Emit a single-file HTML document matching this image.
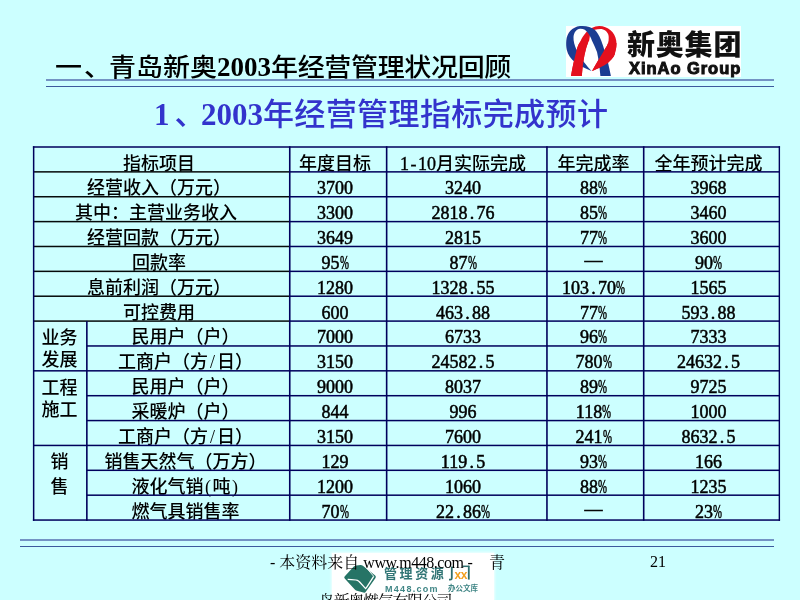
<!DOCTYPE html>
<html lang="zh-CN">
<head>
<meta charset="utf-8">
<title>青岛新奥2003年经营管理状况回顾</title>
<style>
html,body{margin:0;padding:0;}
body{width:800px;height:600px;overflow:hidden;background:#CCFFFF;position:relative;
  font-family:"Liberation Serif","Noto Serif CJK SC",serif;color:#000;}
.abs{position:absolute;}
.title{left:55px;top:49px;font-size:27px;line-height:36px;white-space:nowrap;
  font-family:"Liberation Serif","Noto Sans CJK SC",sans-serif;font-weight:500;}
.title .n{font-weight:700;}
.title .c{letter-spacing:-0.33px;}
.title .sq{display:inline-block;transform:scaleY(0.91);transform-origin:50% 29px;}
.hl1{left:46px;width:728px;height:2px;background:#7393C4;}
.hl2{left:46px;width:728px;height:1px;background:#3D5A9E;}
.sub{left:154px;top:96px;font-size:31px;line-height:38px;white-space:nowrap;color:#3333CC;
  font-family:"Liberation Serif","Noto Sans CJK SC",sans-serif;font-weight:400;}
.sub .n{font-weight:700;}
.sub .c{letter-spacing:0.4px;font-weight:500;}
.sub .dn{position:relative;left:5px;}
.logo{left:566px;top:26px;width:175px;height:51px;background:#fff;}
table.t{position:absolute;left:33px;top:146px;border-collapse:separate;border-spacing:0;
  table-layout:fixed;border-left:2px solid transparent;border-top:2px solid transparent;}
table.t td{border-right:1px solid transparent;border-bottom:1px solid transparent;padding:10px 6px 0 0;
  text-align:center;vertical-align:top;font-size:18px;line-height:13px;white-space:nowrap;overflow:visible;
  font-family:"Liberation Serif","Noto Sans CJK SC",sans-serif;box-sizing:border-box;font-weight:500;}
table.t td.num{-webkit-text-stroke:0.5px #000;}

table.t td.c2{padding-right:7px;} table.t td.c3{padding-right:9px;} table.t td.c4{padding-right:4px;} table.t td.c5{padding-right:6px;}
table.t td.g{line-height:22.5px;padding:3px 3px 0 0;}
table.t td.g span{position:relative;top:2.5px;}
.p{display:inline-block;width:9px;transform:scaleX(0.6);transform-origin:0 50%;}
table.t td.last{border-right-width:2px;}
table.t tr.bot td{border-bottom-width:2px;}
.foot{left:270px;top:553px;font-size:16px;line-height:20px;white-space:nowrap;
  font-family:"Liberation Serif","Noto Serif CJK SC",serif;}
.wm{left:332px;top:553px;width:162px;height:47px;background:#fff;box-shadow:0 0 2px 1px rgba(255,255,255,0.7);}
.foot2{left:319px;top:592px;font-size:16px;line-height:20px;white-space:nowrap;letter-spacing:-1.3px;
  font-family:"Liberation Serif","Noto Serif CJK SC",serif;}
.pg{left:650px;top:552px;font-size:16px;line-height:20px;font-family:"Liberation Serif",serif;}
.d{display:inline-block;width:9px;text-align:center;}
</style>
</head>
<body>
<div class="abs title"><span class="sq">一<span style="position:relative;left:2px">、</span>青岛新奥</span><span class="n">2003</span><span class="c sq">年经营管理状况回顾</span></div>
<div class="abs hl1" style="top:79px"></div>
<div class="abs hl2" style="top:86px"></div>
<div class="abs logo"></div>
<svg class="abs" style="left:564px;top:24px" width="60" height="56" viewBox="0 0 60 56">
<path fill="#E4101E" d="M7 52 L17.8 52 C18.6 42 19.8 33 21.7 26 C23 21 24.2 18 25.2 16.4 C26 12 26 10 26.5 8.4 C29 5.5 33 5 37.7 5.1 C41.5 6 44.7 9 44.7 13 C45 18 43.5 21.5 41.4 24.3 C37 32 32 40 28 47 C35 44 42 41 44.8 38 C49 34 51.2 31 51.2 28 C52.5 24 52.8 20 52.2 16.4 C51 8 44 2.2 35.3 1.9 C30 2 25 5 22 8.4 C19 12 17.8 14 16.8 16.4 C14.5 20 13.5 23 12.6 26 C10.5 34 8.5 43 7 52 Z"/>
<path fill="#1B3D92" d="M36.4 52 L46.9 52 C45 42 43 34 41 28 C39.6 23 38.5 20 37.2 16.4 C35 11 33 8 31 6 C27 2.5 22 1.6 16 2 C8 3 3 9 2.3 16.4 C2 20 2.2 23 2.8 26 C5 36 15 42 27.5 47 C22 41 17 35 12.6 26 C10.5 21 9.3 17 9.5 13 C10 8 12.5 5 16 4.7 C19.5 4.5 22 6 24 9 C25.8 11.5 27 14 27.9 16.4 C29.8 20 31.5 24 33 28 C34.6 35 35.6 43 36.4 52 Z"/>
<svg x="0" y="19" width="60" height="37" viewBox="0 19 60 37" overflow="hidden"><path fill="#E4101E" d="M7 52 L17.8 52 C18.6 42 19.8 33 21.7 26 C23 21 24.2 18 25.2 16.4 C26 12 26 10 26.5 8.4 C29 5.5 33 5 37.7 5.1 C41.5 6 44.7 9 44.7 13 C45 18 43.5 21.5 41.4 24.3 C37 32 32 40 28 47 C35 44 42 41 44.8 38 C49 34 51.2 31 51.2 28 C52.5 24 52.8 20 52.2 16.4 C51 8 44 2.2 35.3 1.9 C30 2 25 5 22 8.4 C19 12 17.8 14 16.8 16.4 C14.5 20 13.5 23 12.6 26 C10.5 34 8.5 43 7 52 Z"/></svg>
</svg>
<div class="abs" style="left:627px;top:27.5px;font-family:'Liberation Sans','Noto Sans CJK SC',sans-serif;font-weight:900;font-size:28px;letter-spacing:0.8px;line-height:36px;white-space:nowrap;color:#111;">新奥集团</div>
<div class="abs" style="left:629px;top:59px;font-family:'Liberation Sans',sans-serif;font-weight:700;font-size:16.5px;line-height:18px;white-space:nowrap;letter-spacing:0.95px;-webkit-text-stroke:1px #111;color:#111;">XinAo Group</div>
<div class="abs sub"><span class="n">1</span><span class="c dn">、</span><span class="n">2003</span><span class="c">年经营管理指标完成预计</span></div>

<table class="t">
<colgroup><col style="width:53px"><col style="width:202px"><col style="width:98px"><col style="width:160px"><col style="width:96px"><col style="width:137px"></colgroup>
<tr style="height:24px"><td class="k" colspan="2">指标项目</td><td class="c2">年度目标</td><td class="c3"><span style="-webkit-text-stroke:0.35px #000">1<span class="d">-</span>10</span>月实际完成</td><td class="c4">年完成率</td><td class="last c5">全年预计完成</td></tr>
<tr style="height:25px"><td class="k" colspan="2">经营收入（万元）</td><td class="c2 num">3700</td><td class="c3 num">3240</td><td class="c4 num">88<span class="p">%</span></td><td class="last c5 num">3968</td></tr>
<tr style="height:25px"><td class="k" colspan="2" style="padding-right:12px">其中：主营业务收入</td><td class="c2 num">3300</td><td class="c3 num">2818<span class="d">.</span>76</td><td class="c4 num">85<span class="p">%</span></td><td class="last c5 num">3460</td></tr>
<tr style="height:25px"><td class="k" colspan="2">经营回款（万元）</td><td class="c2 num">3649</td><td class="c3 num">2815</td><td class="c4 num">77<span class="p">%</span></td><td class="last c5 num">3600</td></tr>
<tr style="height:25px"><td class="k" colspan="2">回款率</td><td class="c2 num">95<span class="p">%</span></td><td class="c3 num">87<span class="p">%</span></td><td class="c4 num"><span style="position:relative;top:-3px">—</span></td><td class="last c5 num">90<span class="p">%</span></td></tr>
<tr style="height:25px"><td class="k" colspan="2">息前利润（万元）</td><td class="c2 num">1280</td><td class="c3 num">1328<span class="d">.</span>55</td><td class="c4 num">103<span class="d">.</span>70<span class="p">%</span></td><td class="last c5 num">1565</td></tr>
<tr style="height:24px"><td class="k" colspan="2">可控费用</td><td class="c2 num">600</td><td class="c3 num">463<span class="d">.</span>88</td><td class="c4 num">77<span class="p">%</span></td><td class="last c5 num">593<span class="d">.</span>88</td></tr>
<tr style="height:25px"><td class="g" rowspan="2"><span>业务<br>发展</span></td><td>民用户（户）</td><td class="c2 num">7000</td><td class="c3 num">6733</td><td class="c4 num">96<span class="p">%</span></td><td class="last c5 num">7333</td></tr>
<tr style="height:25px"><td>工商户（方<span class="d">/</span>日）</td><td class="c2 num">3150</td><td class="c3 num">24582<span class="d">.</span>5</td><td class="c4 num">780<span class="p">%</span></td><td class="last c5 num">24632<span class="d">.</span>5</td></tr>
<tr style="height:25px"><td class="g" rowspan="3"><span>工程<br>施工</span></td><td>民用户（户）</td><td class="c2 num">9000</td><td class="c3 num">8037</td><td class="c4 num">89<span class="p">%</span></td><td class="last c5 num">9725</td></tr>
<tr style="height:25px"><td>采暖炉（户）</td><td class="c2 num">844</td><td class="c3 num">996</td><td class="c4 num">118<span class="p">%</span></td><td class="last c5 num">1000</td></tr>
<tr style="height:25px"><td>工商户（方<span class="d">/</span>日）</td><td class="c2 num">3150</td><td class="c3 num">7600</td><td class="c4 num">241<span class="p">%</span></td><td class="last c5 num">8632<span class="d">.</span>5</td></tr>
<tr style="height:25px"><td class="g" style="line-height:25px;padding-top:2px" rowspan="3"><span style="top:1.5px">销<br>售</span></td><td>销售天然气（万方）</td><td class="c2 num">129</td><td class="c3 num">119<span class="d">.</span>5</td><td class="c4 num">93<span class="p">%</span></td><td class="last c5 num">166</td></tr>
<tr style="height:25px"><td>液化气销<span class="d">(</span>吨<span class="d">)</span></td><td class="c2 num">1200</td><td class="c3 num">1060</td><td class="c4 num">88<span class="p">%</span></td><td class="last c5 num">1235</td></tr>
<tr class="bot" style="height:25px"><td>燃气具销售率</td><td class="c2 num">70<span class="p">%</span></td><td class="c3 num">22<span class="d">.</span>86<span class="p">%</span></td><td class="c4 num"><span style="position:relative;top:-3px">—</span></td><td class="last c5 num">23<span class="p">%</span></td></tr>
</table>
<svg class="abs" style="left:0;top:0;pointer-events:none" width="800" height="600" viewBox="0 0 800 600">
<rect x="32.90" y="146.25" width="747.15" height="1.50" fill="#00005C"/>
<rect x="33.65" y="171.12" width="256.10" height="1.50" fill="#050A0A"/>
<rect x="289.75" y="171.12" width="489.60" height="1.50" fill="#00005C"/>
<rect x="33.65" y="195.99" width="256.10" height="1.50" fill="#050A0A"/>
<rect x="289.75" y="195.99" width="489.60" height="1.50" fill="#00005C"/>
<rect x="33.65" y="220.86" width="256.10" height="1.50" fill="#050A0A"/>
<rect x="289.75" y="220.86" width="489.60" height="1.50" fill="#00005C"/>
<rect x="33.65" y="245.73" width="256.10" height="1.50" fill="#050A0A"/>
<rect x="289.75" y="245.73" width="489.60" height="1.50" fill="#00005C"/>
<rect x="33.65" y="270.60" width="256.10" height="1.50" fill="#050A0A"/>
<rect x="289.75" y="270.60" width="489.60" height="1.50" fill="#00005C"/>
<rect x="33.65" y="295.47" width="256.10" height="1.50" fill="#050A0A"/>
<rect x="289.75" y="295.47" width="489.60" height="1.50" fill="#00005C"/>
<rect x="33.65" y="320.34" width="256.10" height="1.50" fill="#050A0A"/>
<rect x="289.75" y="320.34" width="489.60" height="1.50" fill="#00005C"/>
<rect x="86.85" y="345.21" width="692.50" height="1.50" fill="#00005C"/>
<rect x="33.65" y="370.08" width="745.70" height="1.50" fill="#00005C"/>
<rect x="86.85" y="394.95" width="692.50" height="1.50" fill="#00005C"/>
<rect x="86.85" y="419.82" width="692.50" height="1.50" fill="#00005C"/>
<rect x="33.65" y="444.69" width="745.70" height="1.50" fill="#00005C"/>
<rect x="86.85" y="469.56" width="692.50" height="1.50" fill="#00005C"/>
<rect x="86.85" y="494.43" width="692.50" height="1.50" fill="#00005C"/>
<rect x="32.90" y="519.30" width="747.15" height="1.50" fill="#00005C"/>
<rect x="32.90" y="146.25" width="1.50" height="374.55" fill="#00005C"/>
<rect x="86.05" y="321.09" width="1.60" height="199.71" fill="#00005C"/>
<rect x="288.95" y="146.25" width="1.60" height="374.55" fill="#00005C"/>
<rect x="385.85" y="146.25" width="1.60" height="374.55" fill="#00005C"/>
<rect x="546.15" y="146.25" width="1.60" height="374.55" fill="#00005C"/>
<rect x="642.90" y="146.25" width="1.60" height="374.55" fill="#00005C"/>
<rect x="778.65" y="146.25" width="1.40" height="374.55" fill="#00005C"/>
</svg>

<div class="abs hl1" style="left:20px;width:754px;top:539px"></div>
<div class="abs hl2" style="left:20px;width:754px;top:546px"></div>
<div class="abs wm"></div>
<svg class="abs" style="left:342px;top:562px" width="36" height="34" viewBox="0 0 36 34">
<path fill="#267466" d="M2.6 14.4 L11.8 4.6 Q12.8 3.6 14.3 3.4 L18.4 3 Q19.8 2.9 20.9 3.8 L33.2 13.6 Q34.4 14.7 33.5 15.9 L23.8 29.8 Q22.9 31.1 21.4 30.6 L14.8 28.7 Q13.6 28.3 12.8 27.4 L2.7 16.6 Q1.8 15.5 2.6 14.4 Z"/>
<path fill="none" stroke="#fff" stroke-width="1.3" d="M5.7 17.3 C9 17.4 13 17.5 15.4 18.3 C18.2 19.6 21 24 23.6 26.6 C26.2 23.4 29 18.4 31.7 14.3"/>
<path fill="none" stroke="#fff" stroke-width="0.9" d="M23.8 5.2 L31.7 14.3"/>
</svg>
<div class="abs" style="left:384px;top:564px;font-family:'Liberation Sans','Noto Sans CJK SC',sans-serif;font-weight:700;font-size:13px;letter-spacing:2.6px;line-height:20px;color:#317575;white-space:nowrap;">管理资源</div>
<svg class="abs" style="left:447px;top:564px" width="25" height="17" viewBox="0 0 25 17">
<path fill="none" stroke="#2F6F6F" stroke-width="1.8" d="M4.8 2.6 L4.8 14.3 Q4.8 15.7 3.2 15.7 L2 15.7"/>
<path fill="none" stroke="#2F6F6F" stroke-width="1.5" d="M15.5 2.3 L22.3 2.3"/>
<path fill="none" stroke="#2F6F6F" stroke-width="1.8" d="M21.8 1.8 L21.8 15.6"/>
<text x="7.6" y="14.6" font-family="Liberation Sans, sans-serif" font-weight="700" font-size="12" letter-spacing="-0.6" fill="#F2A020">xx</text>
</svg>
<div class="abs" style="left:385px;top:583px;font-family:'Liberation Sans',sans-serif;font-weight:700;font-size:9px;line-height:12px;letter-spacing:1.3px;color:#3F8585;white-space:nowrap;">M448.com</div>
<div class="abs" style="left:448px;top:583px;font-family:'Liberation Sans','Noto Sans CJK SC',sans-serif;font-weight:700;font-size:7.5px;line-height:12px;color:#3F8585;white-space:nowrap;">办公文库</div>
<div class="abs foot">- 本资料来自 <span style="letter-spacing:-0.45px">www.m448.com</span> -&nbsp;&nbsp;&nbsp;&nbsp;青</div>
<div class="abs foot2">岛新奥燃气有限公司</div>
<div class="abs pg">21</div>
</body>
</html>
